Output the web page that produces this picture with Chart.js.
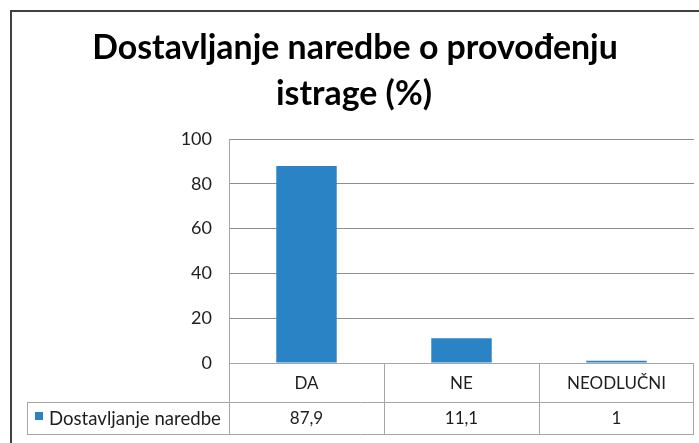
<!DOCTYPE html>
<html>
<head>
<meta charset="utf-8">
<title>Dostavljanje naredbe o provođenju istrage (%)</title>
<script src="https://cdn.jsdelivr.net/npm/chart.js@4/dist/chart.umd.min.js"></script>
<style>
    html, body { margin: 0; padding: 0; background: #ffffff; overflow: hidden; }
    canvas { display: block; }
</style>
</head>
<body>
<canvas id="istragaChart" width="699" height="443"></canvas>
<script>
// ==================== Data ====================
const titleLines = ['Dostavljanje naredbe o provođenju', 'istrage (%)'];
const categories = ['DA', 'NE', 'NEODLUČNI'];
const seriesName = 'Dostavljanje naredbe';
const seriesValues = [87.9, 11.1, 1];
const yTicks = [0, 20, 40, 60, 80, 100];

const FONT = 'Lato, "Open Sans", "DejaVu Sans", sans-serif';
const barColor = '#2983c5';
const gridColor = '#8e8e8e';
const tableLineColor = '#a6a6a6';
const textColor = '#1e1e1e';

// Pick a font size so the text covers the given width
function fitFontSize(ctx, text, weight, targetWidth) {
    ctx.save();
    ctx.font = `${weight} 100px ${FONT}`;
    const w = ctx.measureText(text).width;
    ctx.restore();
    return 100 * targetWidth / w;
}

function formatValue(v) {
    return String(v).replace('.', ',');
}

// Title + outer frame
const frameAndTitle = {
    id: 'frameAndTitle',
    afterDraw(chart) {
        const ctx = chart.ctx;
        ctx.save();
        ctx.strokeStyle = '#404040';
        ctx.lineWidth = 2;
        ctx.strokeRect(11, 11, chart.width + 20, chart.height + 20);

        const size = fitFontSize(ctx, titleLines[0], 'bold', 526);
        ctx.font = `bold ${size}px ${FONT}`;
        ctx.fillStyle = '#000000';
        ctx.textAlign = 'center';
        ctx.textBaseline = 'alphabetic';
        ctx.fillText(titleLines[0], 355, 59);
        ctx.fillText(titleLines[1], 354, 105);
        ctx.restore();
    }
};

// Data table under the plot (Excel style)
const dataTable = {
    id: 'dataTable',
    afterDraw(chart) {
        const ctx = chart.ctx;
        const area = chart.chartArea;
        const xScale = chart.scales.x;
        const colW = (area.right - area.left) / categories.length;
        const rowTop = area.bottom;
        const rowMid = 402;
        const rowBottom = 434;
        const tableLeft = 27;

        ctx.save();
        ctx.strokeStyle = tableLineColor;
        ctx.lineWidth = 1;
        ctx.beginPath();
        ctx.moveTo(area.left, rowTop + 0.5);
        ctx.lineTo(area.right, rowTop + 0.5);
        ctx.moveTo(tableLeft, rowMid + 0.5);
        ctx.lineTo(area.right, rowMid + 0.5);
        ctx.moveTo(tableLeft, rowBottom + 0.5);
        ctx.lineTo(area.right, rowBottom + 0.5);
        ctx.moveTo(tableLeft + 0.5, rowMid);
        ctx.lineTo(tableLeft + 0.5, rowBottom);
        categories.forEach((c, i) => {
            const x = Math.round(xScale.getPixelForValue(i) - colW / 2) + 0.5;
            ctx.moveTo(x, rowTop);
            ctx.lineTo(x, rowBottom);
        });
        ctx.moveTo(Math.round(area.right) - 0.5, rowTop);
        ctx.lineTo(Math.round(area.right) - 0.5, rowBottom);
        ctx.stroke();

        ctx.fillStyle = textColor;
        ctx.font = `17px ${FONT}`;
        ctx.textAlign = 'center';
        ctx.textBaseline = 'middle';
        categories.forEach((c, i) => {
            const x = xScale.getPixelForValue(i);
            ctx.fillText(c, x, (rowTop + rowMid) / 2 + 1);
            ctx.fillText(formatValue(seriesValues[i]), x, (rowMid + rowBottom) / 2 + 1);
        });

        // legend key in the first cell
        ctx.fillStyle = barColor;
        ctx.fillRect(35, 412, 8, 8);
        ctx.fillStyle = textColor;
        const legendSize = fitFontSize(ctx, seriesName, 'normal', 172);
        ctx.font = `${legendSize}px ${FONT}`;
        ctx.textAlign = 'left';
        ctx.fillText(seriesName, 49, (rowMid + rowBottom) / 2 + 1);
        ctx.restore();
    }
};

new Chart(document.getElementById('istragaChart'), {
    type: 'bar',
    data: {
        labels: categories,
        datasets: [{
            label: seriesName,
            data: seriesValues,
            backgroundColor: barColor,
            borderWidth: 0,
            categoryPercentage: 1,
            barPercentage: 0.39
        }]
    },
    options: {
        responsive: false,
        animation: false,
        layout: { padding: { top: 139, right: 5, bottom: 80, left: 0 } },
        plugins: {
            legend: { display: false },
            title: { display: false },
            tooltip: { enabled: false }
        },
        scales: {
            x: { display: false },
            y: {
                min: 0,
                max: 100,
                afterFit(scale) { scale.width = 229; },
                afterBuildTicks(scale) { scale.ticks = yTicks.map(v => ({ value: v })); },
                ticks: {
                    padding: 17,
                    color: textColor,
                    font: { family: FONT, size: 18 }
                },
                grid: { color: gridColor, drawTicks: false },
                border: { display: true, color: tableLineColor }
            }
        }
    },
    plugins: [frameAndTitle, dataTable]
});
</script>
</body>
</html>
